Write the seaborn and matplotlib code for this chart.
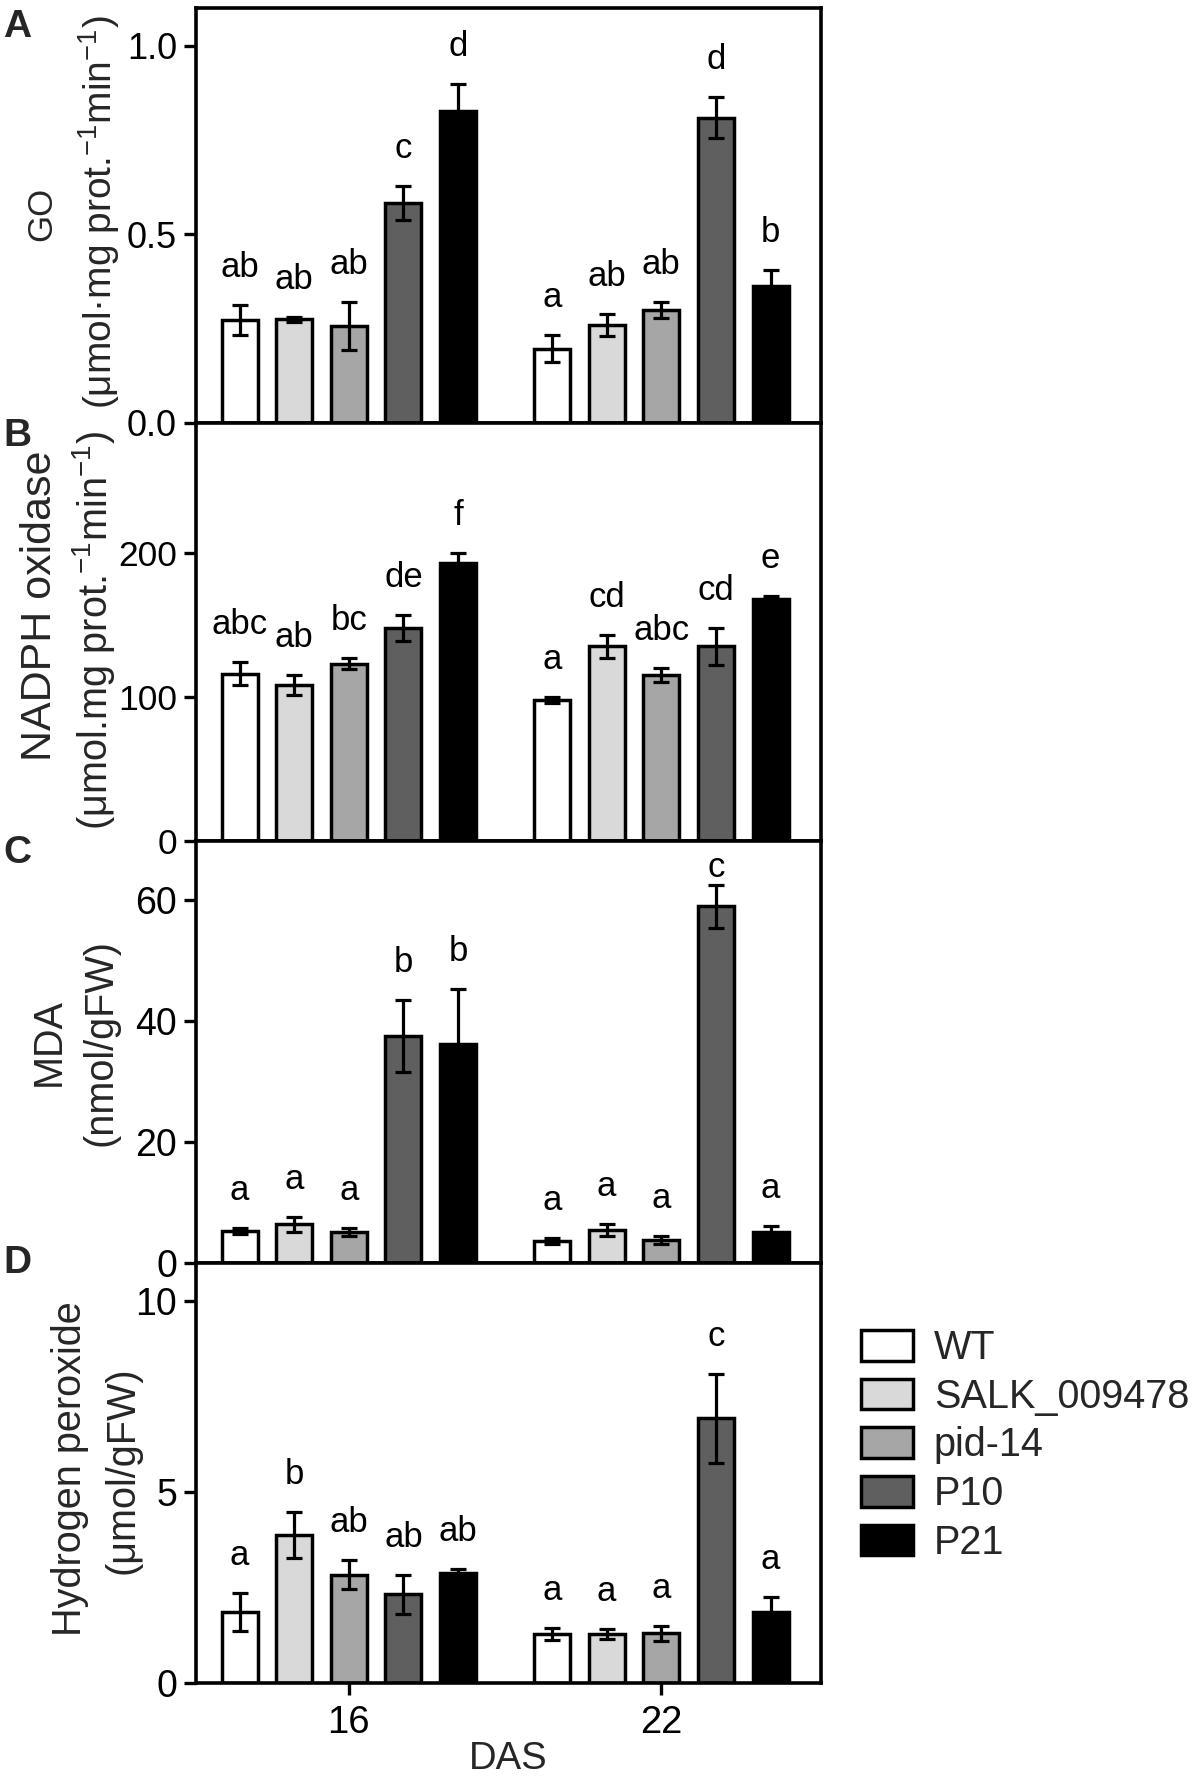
import numpy as np
import pandas as pd
import matplotlib
matplotlib.use("Agg")
import matplotlib.pyplot as plt
import seaborn as sns

# ---------------- data ----------------
das_labels = ["16", "22"]
genotypes = ["WT", "SALK_009478", "pid-14", "P10", "P21"]
bar_colors = ["#ffffff", "#d9d9d9", "#a6a6a6", "#5f5f5f", "#000000"]

# Panel A: GO
go_16 = [0.272, 0.275, 0.257, 0.582, 0.827]
go_16_err = [0.040, 0.006, 0.063, 0.045, 0.072]
go_22 = [0.197, 0.260, 0.300, 0.809, 0.364]
go_22_err = [0.036, 0.030, 0.022, 0.054, 0.042]
go_letters_16 = ["ab", "ab", "ab", "c", "d"]
go_letters_22 = ["a", "ab", "ab", "d", "b"]

# Panel B: NADPH oxidase
nox_16 = [116, 108, 123, 148, 193]
nox_16_err = [8, 7, 4, 9, 7]
nox_22 = [98, 135, 115, 135, 168]
nox_22_err = [2, 8, 5, 13, 2]
nox_letters_16 = ["abc", "ab", "bc", "de", "f"]
nox_letters_22 = ["a", "cd", "abc", "cd", "e"]

# Panel C: MDA
mda_16 = [5.3, 6.4, 5.1, 37.5, 36.2]
mda_16_err = [0.5, 1.2, 0.7, 6.0, 9.0]
mda_22 = [3.6, 5.5, 3.8, 58.9, 5.1]
mda_22_err = [0.5, 1.0, 0.6, 3.6, 1.0]
mda_letters_16 = ["a", "a", "a", "b", "b"]
mda_letters_22 = ["a", "a", "a", "c", "a"]

# Panel D: Hydrogen peroxide
h2o2_16 = [1.87, 3.87, 2.83, 2.32, 2.89]
h2o2_16_err = [0.50, 0.60, 0.38, 0.50, 0.10]
h2o2_22 = [1.28, 1.28, 1.30, 6.93, 1.85]
h2o2_22_err = [0.15, 0.13, 0.20, 1.17, 0.40]
h2o2_letters_16 = ["a", "b", "ab", "ab", "ab"]
h2o2_letters_22 = ["a", "a", "a", "c", "a"]

panel_tags = ["A", "B", "C", "D"]
ylabel_line1 = ["GO", "NADPH oxidase", "MDA", "Hydrogen peroxide"]
ylabel_line2 = [
    "(μmol·mg prot.$^{-1}$min$^{-1}$)",
    "(μmol.mg prot.$^{-1}$min$^{-1}$)",
    "(nmol/gFW)",
    "(μmol/gFW)",
]
ylims = [1.1, 290, 69.7, 11.0]
yticks = [[0.0, 0.5, 1.0], [0, 100, 200], [0, 20, 40, 60], [0, 5, 10]]
ytick_labels = [["0.0", "0.5", "1.0"], ["0", "100", "200"], ["0", "20", "40", "60"], ["0", "5", "10"]]
xlabel = "DAS"

# ---------------- style ----------------
sns.set_theme(style="ticks")
plt.rcParams["font.family"] = ["Liberation Sans", "DejaVu Sans"]
plt.rcParams["mathtext.fontset"] = "custom"
plt.rcParams["mathtext.rm"] = "Liberation Sans"
plt.rcParams["mathtext.it"] = "Liberation Sans:italic"
plt.rcParams["mathtext.bf"] = "Liberation Sans:bold"
plt.rcParams["mathtext.default"] = "regular"

W, H = 1200, 1777
fig = plt.figure(figsize=(W / 100, H / 100), dpi=100)

left_px, right_px = 196, 821
tops = [8, 423, 841, 1263]
bottoms = [423, 841, 1263, 1683]
tick_fs = [26, 25.5, 27, 27]
lab1_fs = [25, 31, 28.5, 28.5]
lab2_fs = [28, 28.5, 28.5, 28.5]
lab1_x = [42, 40, 49, 70]
lab2_x = [99, 94, 101, 122]
lab1_dy = [-2, -26, -10, -4]
lab2_dy = [-3, -2, -9, -3]
tag_top = [9, 418, 835, 1245]

panels = [
    (go_16, go_16_err, go_22, go_22_err, go_letters_16, go_letters_22),
    (nox_16, nox_16_err, nox_22, nox_22_err, nox_letters_16, nox_letters_22),
    (mda_16, mda_16_err, mda_22, mda_22_err, mda_letters_16, mda_letters_22),
    (h2o2_16, h2o2_16_err, h2o2_22, h2o2_22_err, h2o2_letters_16, h2o2_letters_22),
]

axes = []
for i, (m16, e16, m22, e22, l16, l22) in enumerate(panels):
    ax_h_px = bottoms[i] - tops[i]
    ax = fig.add_axes([left_px / W, 1 - bottoms[i] / H,
                       (right_px - left_px) / W, ax_h_px / H])
    axes.append(ax)
    df = pd.DataFrame({
        "DAS": [das_labels[0]] * 5 + [das_labels[1]] * 5,
        "genotype": genotypes + genotypes,
        "value": list(m16) + list(m22),
        "err": list(e16) + list(e22),
        "letter": list(l16) + list(l22),
    })
    sns.barplot(data=df, x="DAS", y="value", hue="genotype", hue_order=genotypes,
                order=das_labels, palette=bar_colors, width=0.874, gap=0.34,
                edgecolor="black", linewidth=2.5, errorbar=None, ax=ax,
                legend=(i == 3), saturation=1)
    bar_conts = list(ax.containers)
    ax.set_xlim(-0.489, 1.511)
    ax.set_ylim(0, ylims[i])
    # letter offset: ~28 px above the error bar top, kept inside the panel
    off_data = 28 / ax_h_px * ylims[i]
    for h_idx, cont in enumerate(bar_conts):
        for x_idx, bar in enumerate(cont):
            row = df[(df["genotype"] == genotypes[h_idx]) & (df["DAS"] == das_labels[x_idx])].iloc[0]
            xc = bar.get_x() + bar.get_width() / 2
            top = bar.get_height()
            ax.errorbar(xc, top, yerr=row["err"], fmt="none", ecolor="black",
                        elinewidth=2.3, capsize=6, capthick=2.3, zorder=5)
            ly = min(top + row["err"] + off_data, 0.915 * ylims[i])
            ax.text(xc, ly, row["letter"], ha="center", va="baseline",
                    fontsize=25, color="black")
    ax.set_yticks(yticks[i])
    ax.set_yticklabels(ytick_labels[i])
    ax.set_ylabel("")
    for s in ax.spines.values():
        s.set_linewidth(2.6)
        s.set_color("black")
        s.set_visible(True)
    ax.tick_params(axis="y", labelsize=tick_fs[i], width=2.4, length=8.6, pad=5,
                   direction="out", colors="black")
    if i < 3:
        ax.tick_params(axis="x", bottom=False, labelbottom=False)
        ax.set_xlabel("")
    else:
        ax.tick_params(axis="x", labelsize=27.5, width=2.4, length=8.6, pad=7,
                       direction="out", colors="black")
        ax.set_xlabel(xlabel, fontsize=27.5, labelpad=0)
    yc_px = (tops[i] + bottoms[i]) / 2
    fig.text(lab1_x[i] / W, 1 - (yc_px + lab1_dy[i]) / H, ylabel_line1[i], rotation=90,
             ha="center", va="center", fontsize=lab1_fs[i])
    fig.text(lab2_x[i] / W, 1 - (yc_px + lab2_dy[i]) / H, ylabel_line2[i], rotation=90,
             ha="center", va="center", fontsize=lab2_fs[i])
    fig.text(3 / W, 1 - tag_top[i] / H, panel_tags[i], fontsize=28,
             fontweight="bold", va="top", ha="left")

# legend
axD = axes[3]
handles, labels = axD.get_legend_handles_labels()
if axD.get_legend() is not None:
    axD.get_legend().remove()
fig.legend(handles, labels, loc="upper left", bbox_to_anchor=(861 / W, 1 - 1329 / H),
           frameon=False, fontsize=28.5, handlelength=1.31, handleheight=0.81,
           labelspacing=0.27, handletextpad=0.53, borderaxespad=0, borderpad=0)

fig.savefig("out.png", dpi=100)
